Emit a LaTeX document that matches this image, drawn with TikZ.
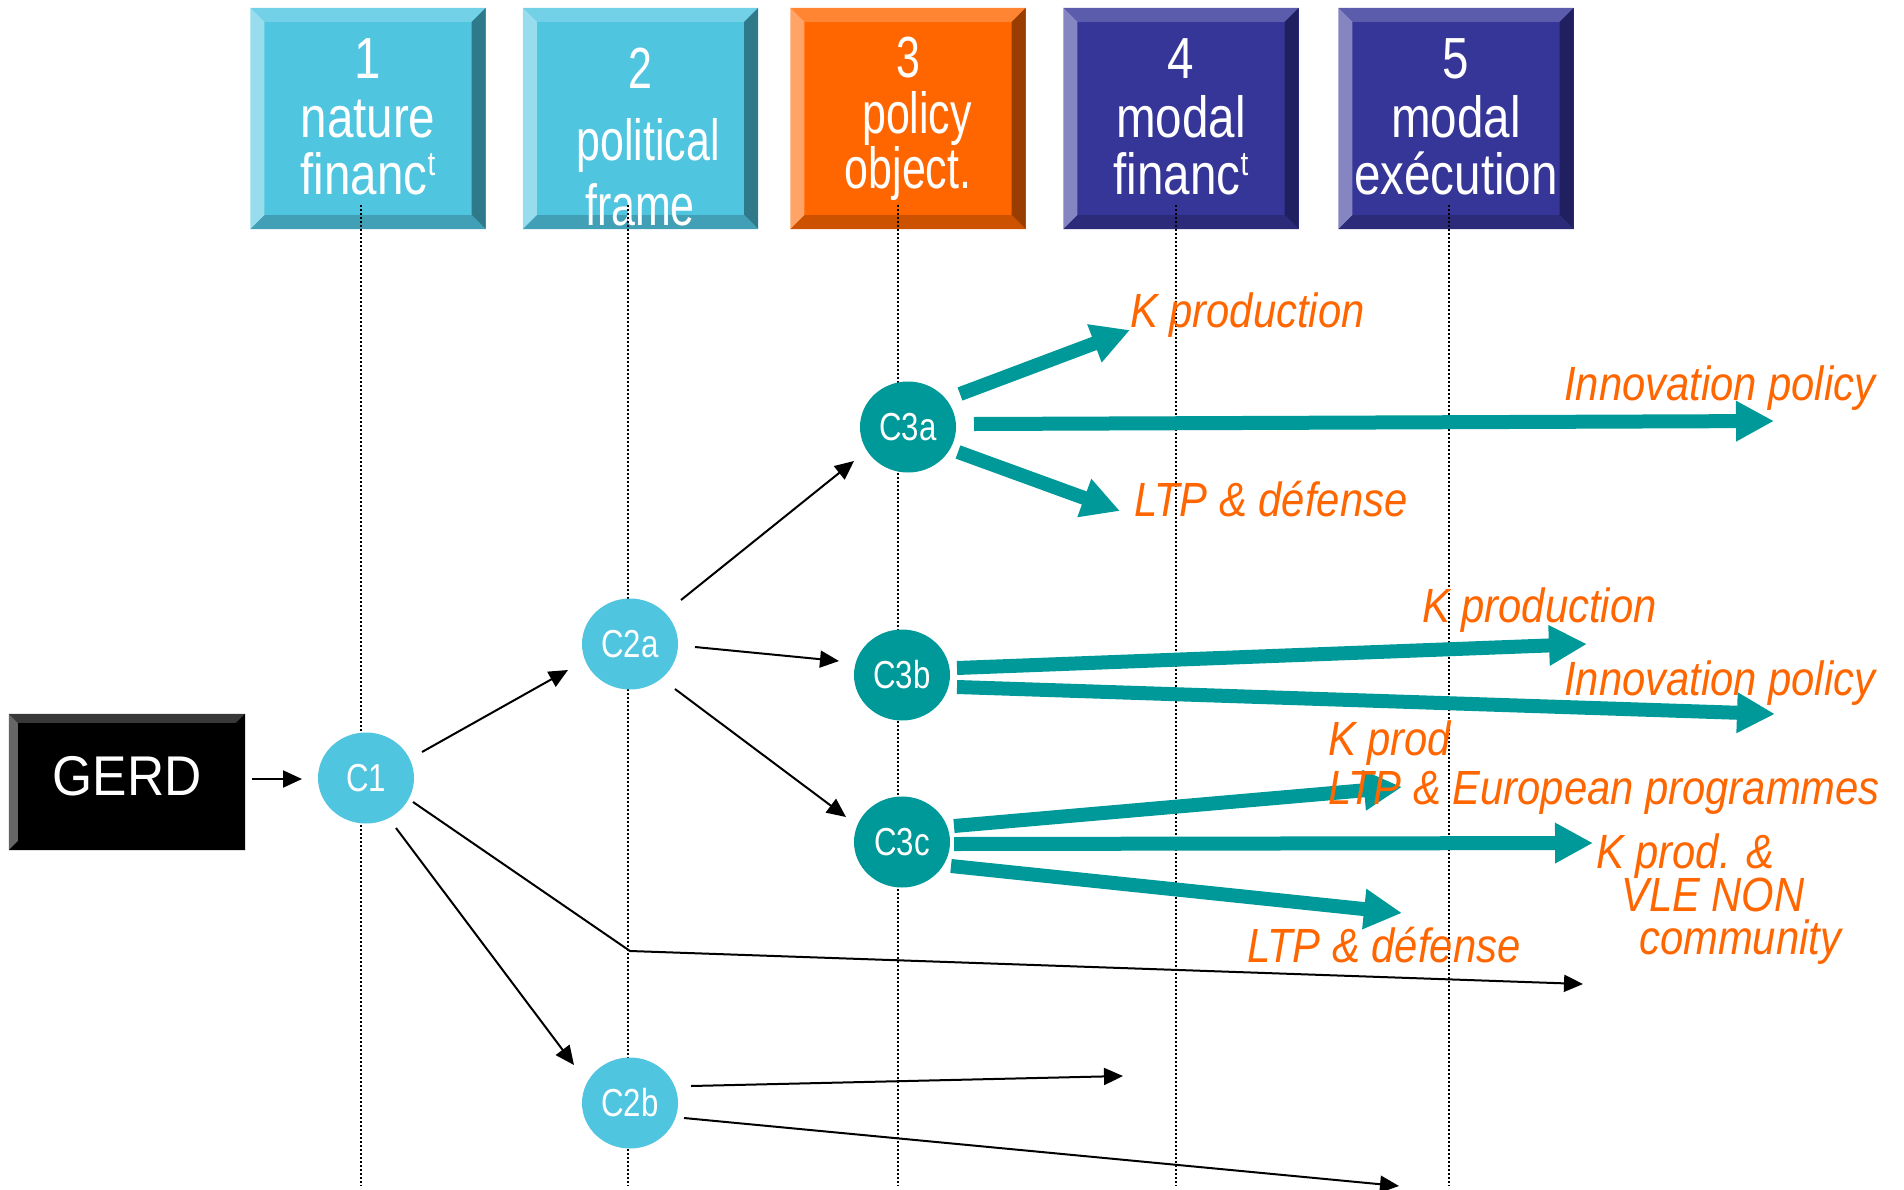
\documentclass[tikz,border=0pt]{standalone}
\usepackage{fontspec}
\setmainfont{Liberation Sans}
\newfontfamily\boxfa[FakeStretch=0.82]{Liberation Sans}
\newfontfamily\boxfb[FakeStretch=0.74]{Liberation Sans}
\newfontfamily\lblf[FakeStretch=0.87]{Liberation Sans}
\newfontfamily\circf[FakeStretch=0.8]{Liberation Sans}
\newfontfamily\gerdf[FakeStretch=0.92]{Liberation Sans}
\usetikzlibrary{arrows.meta,calc,shapes.geometric}
\definecolor{cyface}{HTML}{50C5E0}
\definecolor{cytop}{HTML}{73D1E7}
\definecolor{cyleft}{HTML}{97DDED}
\definecolor{cyright}{HTML}{2E7A8A}
\definecolor{cybot}{HTML}{41A0B5}
\definecolor{orface}{HTML}{FF6600}
\definecolor{ortop}{HTML}{FF8533}
\definecolor{orleft}{HTML}{FFA366}
\definecolor{orright}{HTML}{993D00}
\definecolor{orbot}{HTML}{CC5200}
\definecolor{nvface}{HTML}{363698}
\definecolor{nvtop}{HTML}{5C5CAD}
\definecolor{nvleft}{HTML}{8585C2}
\definecolor{nvright}{HTML}{202060}
\definecolor{nvbot}{HTML}{2B2B7A}
\definecolor{tealc}{HTML}{009999}
\definecolor{lblorange}{HTML}{FF6600}
\newcommand\bevels[6]{%
 \fill[#3] (#1.north west) -- (#1.north east) -- ($(#1.north east)+(-#2,#2)$) -- ($(#1.north west)+(#2,#2)$) -- cycle;
 \fill[#4] (#1.north west) -- ($(#1.north west)+(#2,#2)$) -- ($(#1.south west)+(#2,-#2)$) -- (#1.south west) -- cycle;
 \fill[#5] (#1.north east) -- (#1.south east) -- ($(#1.south east)+(-#2,-#2)$) -- ($(#1.north east)+(-#2,#2)$) -- cycle;
 \fill[#6] (#1.south west) -- (#1.south east) -- ($(#1.south east)+(-#2,-#2)$) -- ($(#1.south west)+(#2,-#2)$) -- cycle;
}
\newcommand\supt{\raisebox{19pt}{\fontsize{34}{34}\selectfont t}}
\tikzset{
 headbox/.style={rectangle, minimum width=235pt, minimum height=221pt, inner sep=0pt, draw=none},
 lightnode/.style={ellipse, fill=cyface, minimum width=96pt, minimum height=91pt, inner sep=0pt, text=white, font=\circf\fontsize{39}{39}\selectfont},
 darknode/.style={lightnode, fill=tealc},
 thinarrow/.style={line width=2pt, -{Triangle[length=19pt,width=17pt]}},
 thickarrow/.style={draw=tealc, line width=14pt, -{Triangle[length=38pt,width=38pt]}},
 lbl/.style={text=lblorange, font=\lblf\itshape\fontsize{48}{48}\selectfont, inner sep=0pt, anchor=base west},
 btxa/.style={text=white, font=\boxfa\fontsize{58}{58}\selectfont, inner sep=0pt, anchor=base},
 btxb/.style={text=white, font=\boxfb\fontsize{58}{58}\selectfont, inner sep=0pt, anchor=base},
 guide/.style={line width=1.6pt, dash pattern=on 1.6pt off 2.4pt}
}
\begin{document}
\begin{tikzpicture}[x=1pt,y=-1pt]
\fill[white] (0,0) rectangle (1904,1189);
\useasboundingbox (0,0) rectangle (1904,1189);

% header boxes
\node[headbox, fill=cyface] (b1) at (368,118.5) {};
\bevels{b1}{14}{cytop}{cyleft}{cyright}{cybot}
\node[headbox, fill=cyface] (b2) at (640.5,118.5) {};
\bevels{b2}{14}{cytop}{cyleft}{cyright}{cybot}
\node[headbox, fill=orface] (b3) at (908,118.5) {};
\bevels{b3}{14}{ortop}{orleft}{orright}{orbot}
\node[headbox, fill=nvface] (b4) at (1181,118.5) {};
\bevels{b4}{14}{nvtop}{nvleft}{nvright}{nvbot}
\node[headbox, fill=nvface] (b5) at (1456,118.5) {};
\bevels{b5}{14}{nvtop}{nvleft}{nvright}{nvbot}

% header texts
\node[btxa] (t1a) at (368,78) {1};
\node[btxa] (t1b) at (368,137) {nature};
\node[btxa] (t1c) at (368,194) {financ\supt};
\node[btxb] (t2a) at (640,88) {2};
\node[btxb] (t2b) at (648,160) {political};
\node[btxb] (t2c) at (640,225) {frame};
\node[btxb] (t3a) at (908,77) {3};
\node[btxb] (t3b) at (917,133) {policy};
\node[btxb] (t3c) at (908,188) {object.};
\node[btxa] (t4a) at (1181,78) {4};
\node[btxa] (t4b) at (1181,137) {modal};
\node[btxa] (t4c) at (1181,194) {financ\supt};
\node[btxa] (t5a) at (1456,78) {5};
\node[btxa] (t5b) at (1456,137) {modal};
\node[btxa] (t5c) at (1456,194) {exécution};

% dotted guides
\draw[guide] (361,205) -- (361,1186);
\draw[guide] (628,205) -- (628,1186);
\draw[guide] (898,205) -- (898,1186);
\draw[guide] (1176,205) -- (1176,1186);
\draw[guide] (1449,205) -- (1449,1186);

% GERD
\node[rectangle, fill=black, minimum width=236pt, minimum height=136pt, inner sep=0pt] (GERD) at (127,782) {};
\bevels{GERD}{9}{black!78}{black!60}{black}{black}
\node[text=white, font=\gerdf\fontsize{56}{56}\selectfont, inner sep=0pt, anchor=base] (gerdtxt) at (127,795) {GERD};

% circles
\node[lightnode] (C1) at (366,778) {C1};
\node[lightnode] (C2a) at (630,644) {C2a};
\node[lightnode] (C2b) at (630,1103) {C2b};
\node[darknode] (C3a) at (908,427) {C3a};
\node[darknode] (C3b) at (902,675) {C3b};
\node[darknode] (C3c) at (902,842) {C3c};

% free ends
\coordinate (kink) at (630,951);
\coordinate (e7) at (1583,984);
\coordinate (e8) at (1123,1076);
\coordinate (e9) at (1399,1186);
\coordinate (ta) at (1130,330);
\coordinate (tb) at (1774,421);
\coordinate (tc) at (1120,511);
\coordinate (td) at (1587,644);
\coordinate (te) at (1775,714);
\coordinate (tf) at (1402,787);
\coordinate (tg) at (1593,843);
\coordinate (th) at (1402,913);

% thin arrows
\draw[thinarrow] ($(GERD)+(125,-3)$) -- ($(C1)+(-64,1)$);
\draw[thinarrow] ($(C1)+(56,-26)$) -- ($(C2a)+(-62,26)$);
\draw[thinarrow] ($(C2a)+(51,-44)$) -- ($(C3a)+(-54,34)$);
\draw[thinarrow] ($(C2a)+(65,3)$) -- ($(C3b)+(-63,-14)$);
\draw[thinarrow] ($(C2a)+(45,45)$) -- ($(C3c)+(-56,-25)$);
\draw[thinarrow] ($(C1)+(30,50)$) -- ($(C2b)+(-56,-38)$);
\draw[thinarrow] ($(C1)+(47,24)$) -- (kink) -- (e7);
\draw[thinarrow] ($(C2b)+(61,-17)$) -- (e8);
\draw[thinarrow] ($(C2b)+(54,15)$) -- (e9);

% thick arrows
\draw[thickarrow] ($(C3a)+(52,-33)$) -- (ta);
\draw[thickarrow] ($(C3a)+(66,-3)$) -- (tb);
\draw[thickarrow] ($(C3a)+(50,25)$) -- (tc);
\draw[thickarrow] ($(C3b)+(55,-7)$) -- (td);
\draw[thickarrow] ($(C3b)+(55,12)$) -- (te);
\draw[thickarrow] ($(C3c)+(52,-16)$) -- (tf);
\draw[thickarrow] ($(C3c)+(52,2)$) -- (tg);
\draw[thickarrow] ($(C3c)+(49,24)$) -- (th);

% labels
\node[lbl] (lKa) at (1130,327) {K production};
\node[lbl] (lIa) at (1564,400) {Innovation policy};
\node[lbl] (lLa) at (1134,516) {LTP \& défense};
\node[lbl] (lKb) at (1422,622) {K production};
\node[lbl] (lIb) at (1564,695) {Innovation policy};
\node[lbl] (lKc) at (1328,755) {K prod};
\node[lbl] (lEc) at (1328,804) {LTP \& European programmes};
\node[lbl] (lKd) at (1596,868) {K prod. \&};
\node[lbl] (lVd) at (1621,911) {VLE NON};
\node[lbl] (lCd) at (1639,954) {community};
\node[lbl] (lLd) at (1247,962) {LTP \& défense};
\end{tikzpicture}
\end{document}
